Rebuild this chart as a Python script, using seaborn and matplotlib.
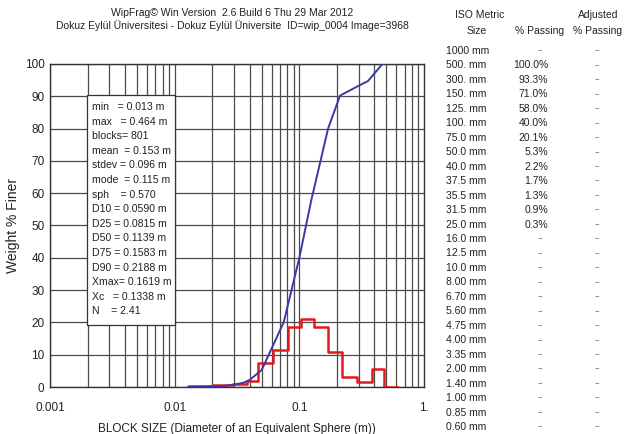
import numpy as np
import pandas as pd
import matplotlib
matplotlib.use("Agg")
import matplotlib.pyplot as plt
import seaborn as sns
from matplotlib.patches import Rectangle

# ---------------- data ----------------
cum_size = [0.013, 0.025, 0.0315, 0.0355, 0.0375, 0.040, 0.050, 0.075, 0.100,
            0.125, 0.150, 0.170, 0.212, 0.300, 0.355, 0.464]
cum_pass = [0.0, 0.3, 0.9, 1.3, 1.7, 2.2, 5.3, 20.1, 40.0,
            58.0, 71.0, 80.0, 90.2, 93.3, 94.7, 100.0]

hist_edges = [0.0129, 0.0204, 0.0295, 0.0378, 0.0469, 0.0618, 0.0815, 0.1023,
              0.131, 0.1706, 0.218, 0.288, 0.380, 0.476, 0.621]
hist_pct = [0.2, 0.5, 0.8, 2.0, 7.3, 11.4, 18.5, 21.0, 18.5, 10.9, 3.0, 1.6, 5.6, 0.0, 0.0]

stats_lines = ["min   = 0.013 m", "max   = 0.464 m", "blocks= 801", "mean  = 0.153 m",
               "stdev = 0.096 m", "mode  = 0.115 m", "sph    = 0.570", "D10 = 0.0590 m",
               "D25 = 0.0815 m", "D50 = 0.1139 m", "D75 = 0.1583 m", "D90 = 0.2188 m",
               "Xmax= 0.1619 m", "Xc   = 0.1338 m", "N    = 2.41"]

iso_sizes = ["1000 mm", "500. mm", "300. mm", "150. mm", "125. mm", "100. mm", "75.0 mm",
             "50.0 mm", "40.0 mm", "37.5 mm", "35.5 mm", "31.5 mm", "25.0 mm", "16.0 mm",
             "12.5 mm", "10.0 mm", "8.00 mm", "6.70 mm", "5.60 mm", "4.75 mm", "4.00 mm",
             "3.35 mm", "2.00 mm", "1.40 mm", "1.00 mm", "0.85 mm", "0.60 mm"]
iso_passing = ["--", "100.0%", "93.3%", "71.0%", "58.0%", "40.0%", "20.1%", "5.3%",
               "2.2%", "1.7%", "1.3%", "0.9%", "0.3%"] + ["--"] * 14
adj_passing = ["--"] * 27

x_ticks = [0.001, 0.01, 0.1, 1.0]
x_ticklabels = ["0.001", "0.01", "0.1", "1."]
y_ticks = list(range(0, 101, 10))

title1 = "WipFrag\u00a9 Win Version  2.6 Build 6 Thu 29 Mar 2012"
title2 = "Dokuz Eyl\u00fcl \u00dcniversitesi - Dokuz Eyl\u00fcl \u00dcniversite  ID=wip_0004 Image=3968"

# ---------------- plot ----------------
sns.set_style("white")
plt.rcParams["font.family"] = ["Liberation Sans", "DejaVu Sans"]

W, H = 625, 434
fig = plt.figure(figsize=(W / 100, H / 100), dpi=100)
L, R, T, B = 50, 424, 64, 387
ax = fig.add_axes([L / W, 1 - B / H, (R - L) / W, (B - T) / H])

df_cum = pd.DataFrame({"size": cum_size, "pass": cum_pass})
df_hist = pd.DataFrame({"size": hist_edges, "pct": hist_pct})

ax.set_xscale("log")
ax.set_xlim(0.001, 1.0)
ax.set_ylim(0, 100)

# grid
gc = "#4a4a4a"
for dec in [0.001, 0.01, 0.1]:
    for m in range(1, 10):
        ax.axvline(dec * m, color=gc, lw=0.9, zorder=0)
for yv in y_ticks:
    ax.axhline(yv, color=gc, lw=0.9, zorder=0)

sns.lineplot(data=df_hist, x="size", y="pct", drawstyle="steps-post", color="#e3191c",
             lw=1.8, estimator=None, sort=False, ax=ax, zorder=3)
sns.lineplot(data=df_cum, x="size", y="pass", color="#3a3aa6", lw=1.4,
             estimator=None, sort=False, ax=ax, zorder=4)

ax.set_xticks(x_ticks)
ax.set_xticklabels(x_ticklabels)
ax.set_xticks([], minor=True)
ax.set_yticks(y_ticks)
ax.tick_params(axis="both", length=0, labelsize=8.5, colors="#222222")
ax.tick_params(axis="x", pad=11)
ax.tick_params(axis="y", pad=4)
for s in ax.spines.values():
    s.set_color("#333333")
    s.set_linewidth(1.0)

ax.set_xlabel("BLOCK SIZE (Diameter of an Equivalent Sphere (m))", fontsize=8.5,
              color="#222222", labelpad=6)
ax.set_ylabel("Weight % Finer", fontsize=10, color="#222222")
ax.yaxis.set_label_coords(-(L - 20) / (R - L), 0.5)

# stats box
ax.add_patch(Rectangle((0.099, 0.192), 0.235, 0.712, transform=ax.transAxes,
                       facecolor="white", edgecolor="#333333", lw=0.9, zorder=5))
for i, line in enumerate(stats_lines):
    ypix = 107 + i * 14.6
    fig.text(92 / W, 1 - ypix / H, line, fontsize=7.6, va="center", ha="left",
             color="#222222", zorder=6)

# titles
fig.text(232 / W, 1 - 13 / H, title1, fontsize=7.5, ha="center", va="center", color="#222222")
fig.text(232 / W, 1 - 26 / H, title2, fontsize=7.5, ha="center", va="center", color="#222222")

# right table
fig.text(480 / W, 1 - 15 / H, "ISO Metric", fontsize=7.5, ha="center", va="center", color="#222222")
fig.text(477 / W, 1 - 31 / H, "Size", fontsize=7.5, ha="center", va="center", color="#222222")
fig.text(540 / W, 1 - 31 / H, "% Passing", fontsize=7.5, ha="center", va="center", color="#222222")
fig.text(598 / W, 1 - 15 / H, "Adjusted", fontsize=7.5, ha="center", va="center", color="#222222")
fig.text(598 / W, 1 - 31 / H, "% Passing", fontsize=7.5, ha="center", va="center", color="#222222")
n = len(iso_sizes)
for i in range(n):
    ypix = 51 + i * (427 - 51) / (n - 1)
    fig.text(446 / W, 1 - ypix / H, iso_sizes[i], fontsize=7.5, ha="left", va="center", color="#222222")
    p = iso_passing[i]
    if p == "--":
        fig.text(540 / W, 1 - ypix / H, p, fontsize=6, ha="center", va="center", color="#555555")
    else:
        fig.text(548 / W, 1 - ypix / H, p, fontsize=7.5, ha="right", va="center", color="#222222")
    fig.text(597 / W, 1 - ypix / H, adj_passing[i], fontsize=6, ha="center", va="center", color="#555555")

fig.savefig("out.png", dpi=100)
